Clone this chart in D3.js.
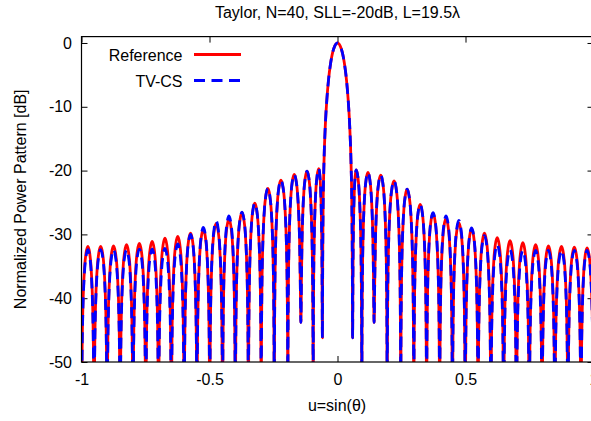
<!DOCTYPE html>
<html><head><meta charset="utf-8">
<script src="https://cdn.jsdelivr.net/npm/d3@7"></script>
<style>
body{margin:0;background:#fff}
svg{display:block}
text{font-family:"Liberation Sans",Arial,sans-serif;font-size:16px;fill:#000}
</style>
</head><body>
<svg id="chart" width="591" height="421"></svg>
<script>
// ---------------- data ----------------
const titleText = "Taylor, N=40, SLL=-20dB, L=19.5λ";
const xLabel = "u=sin(θ)";
const yLabel = "Normalized Power Pattern [dB]";
const xTicks = [-1, -0.5, 0, 0.5, 1];
const xTickLabels = ["-1", "-0.5", "0", "0.5", "1"];
const yTicks = [0, -10, -20, -30, -40, -50];
const yTickLabels = ["0", "-10", "-20", "-30", "-40", "-50"];
const seriesNames = ["Reference", "TV-CS"];
const seriesColors = ["#ff0000", "#0000ff"];

// pattern nulls: position u and depth in dB (null = below the -50 dB floor)
const nullU = [-1.0, -0.951, -0.9, -0.849, -0.799, -0.749, -0.699, -0.649, -0.599, -0.549,
  -0.499, -0.449, -0.399, -0.348, -0.298, -0.247, -0.194, -0.143, -0.095, -0.059,
  0.059, 0.095, 0.143, 0.194, 0.247, 0.298, 0.348, 0.399, 0.449, 0.499,
  0.549, 0.599, 0.649, 0.699, 0.749, 0.799, 0.849, 0.9, 0.951, 1.0];
const nullDb = [null, null, null, null, null, null, null, null, null, null,
  null, null, null, null, null, null, null, -43.8, null, -46.2,
  -46.2, null, -43.8, null, null, null, null, null, null, null,
  null, null, null, null, null, null, null, null, null, null];

// side-lobe peaks
const peakU = [-0.975, -0.925, -0.875, -0.824, -0.774, -0.724, -0.674, -0.624, -0.574, -0.524,
  -0.474, -0.424, -0.373, -0.323, -0.272, -0.221, -0.169, -0.119, -0.073,
  0.073, 0.119, 0.169, 0.221, 0.272, 0.323, 0.373, 0.424, 0.474, 0.524,
  0.574, 0.624, 0.674, 0.724, 0.774, 0.824, 0.875, 0.925, 0.975];
const refPeakDb = [-31.9, -31.9, -31.8, -31.6, -31.4, -31.1, -30.6, -30.3, -29.8, -29.2,
  -28.3, -27.6, -26.6, -25.1, -22.8, -21.5, -20.6, -20.1, -19.7,
  -19.9, -20.3, -20.7, -21.6, -22.9, -25.3, -26.7, -27.5, -28.2, -29.1,
  -29.8, -30.5, -31.0, -31.3, -31.6, -31.8, -31.9, -32.0, -32.1];
const tvPeakDb = [-32.4, -32.4, -32.4, -32.4, -32.3, -32.3, -32.2, -31.5, -30.0, -28.9,
  -27.9, -27.1, -26.5, -25.1, -22.8, -21.5, -20.6, -20.1, -19.7,
  -19.9, -20.3, -20.7, -21.6, -22.9, -25.3, -26.6, -27.1, -27.8, -29.0,
  -30.2, -31.6, -32.4, -32.5, -32.5, -32.5, -32.5, -32.5, -32.5];

// main beam samples (shared by both series)
const mainU = [-0.0578, -0.0561, -0.0531, -0.0472, -0.0413, -0.0354, -0.0266, -0.0148, 0,
  0.0148, 0.0266, 0.0354, 0.0413, 0.0472, 0.0531, 0.0561, 0.0578];
const mainDb = [-33.8, -25.6, -19.2, -12.6, -8.7, -5.9, -3.1, -0.9, 0,
  -0.9, -3.1, -5.9, -8.7, -12.6, -19.2, -25.6, -33.8];

// side-lobe profile: fraction of the peak-to-null distance, drop below the peak (dB)
const lobeFrac = [0.3, 0.5, 0.7, 0.8, 0.9, 0.95, 0.98];
const lobeDrop = [-1.1, -3.0, -6.9, -10.2, -16.1, -22.1, -30.1];

// ---------------- layout ----------------
const pL = 81.5, pR = 593.5, pT = 36.6, pB = 362;
const OFF = -80; // depth used for nulls that fall below the plotted range

const svg = d3.select("#chart");
const x = d3.scaleLinear().domain([-1, 1]).range([pL, pR]);
const y = d3.scaleLinear().domain([-50, 1]).range([pB, pT]);

function buildSeries(peakDb) {
  const pts = [];
  let p = 0;
  for (let i = 0; i < nullU.length; i++) {
    const nd = nullDb[i] === null ? OFF : nullDb[i];
    pts.push([nullU[i], nd]);
    if (i === nullU.length - 1) break;
    if (nullU[i] < 0 && nullU[i + 1] > 0) {
      mainU.forEach((u, k) => pts.push([u, mainDb[k]]));
      continue;
    }
    const pu = peakU[p], pv = peakDb[p];
    p++;
    const rd = nullDb[i + 1] === null ? OFF : nullDb[i + 1];
    for (let k = lobeFrac.length - 1; k >= 0; k--) {
      const v = pv + lobeDrop[k];
      if (v > nd + 2) pts.push([pu - lobeFrac[k] * (pu - nullU[i]), v]);
    }
    pts.push([pu, pv]);
    for (let k = 0; k < lobeFrac.length; k++) {
      const v = pv + lobeDrop[k];
      if (v > rd + 2) pts.push([pu + lobeFrac[k] * (nullU[i + 1] - pu), v]);
    }
  }
  return pts;
}

const series = [buildSeries(refPeakDb), buildSeries(tvPeakDb)];

svg.append("defs").append("clipPath").attr("id", "plotclip")
  .append("rect").attr("x", pL).attr("y", pT)
  .attr("width", pR - pL).attr("height", pB - pT);

const line = d3.line().x(d => x(d[0])).y(d => y(d[1])).curve(d3.curveMonotoneX);

// axes (inward ticks)
const axB = svg.append("g").attr("transform", `translate(0,${pB})`)
  .call(d3.axisBottom(x).tickValues(xTicks).tickSize(-6).tickSizeOuter(0)
    .tickFormat((d, i) => xTickLabels[i]));
axB.selectAll("text").attr("y", 23).attr("dy", null);
const axT = svg.append("g").attr("transform", `translate(0,${pT})`)
  .call(d3.axisTop(x).tickValues(xTicks).tickSize(-6).tickSizeOuter(0).tickFormat(""));
const axL = svg.append("g").attr("transform", `translate(${pL},0)`)
  .call(d3.axisLeft(y).tickValues(yTicks).tickSize(-6).tickSizeOuter(0)
    .tickPadding(9.5).tickFormat((d, i) => yTickLabels[i]));
const axR = svg.append("g").attr("transform", `translate(${pR},0)`)
  .call(d3.axisRight(y).tickValues(yTicks).tickSize(-6).tickSizeOuter(0).tickFormat(""));
[axB, axT, axL, axR].forEach(g => {
  g.select(".domain").remove();
  g.selectAll("text").attr("font-size", 16).attr("font-family", '"Liberation Sans",Arial,sans-serif').attr("fill", "#000");
  g.selectAll("line").attr("stroke", "#000");
});

// curves
const plot = svg.append("g").attr("clip-path", "url(#plotclip)");
plot.append("path").datum(series[0]).attr("d", line)
  .attr("fill", "none").attr("stroke", seriesColors[0]).attr("stroke-width", 2.8)
  .attr("stroke-linejoin", "round");
plot.append("path").datum(series[1]).attr("d", line)
  .attr("fill", "none").attr("stroke", seriesColors[1]).attr("stroke-width", 2.8)
  .attr("stroke-dasharray", "11,6.5").attr("stroke-linejoin", "round");

// frame
svg.append("rect").attr("x", pL).attr("y", pT)
  .attr("width", pR - pL).attr("height", pB - pT)
  .attr("fill", "none").attr("stroke", "#000").attr("stroke-width", 1.2);

// legend
const legend = svg.append("g");
seriesNames.forEach((name, i) => {
  const ly = 54.5 + i * 26;
  legend.append("text").attr("x", 182.5).attr("y", ly + 6).attr("text-anchor", "end").text(name);
  const l = legend.append("line").attr("x1", 194).attr("x2", 241).attr("y1", ly).attr("y2", ly)
    .attr("stroke", seriesColors[i]).attr("stroke-width", 2.8);
  if (i === 1) l.attr("stroke-dasharray", "11,6.5");
});

// title and axis labels
svg.append("text").attr("x", 337.5).attr("y", 18).attr("text-anchor", "middle").text(titleText);
svg.append("text").attr("x", 337).attr("y", 411).attr("text-anchor", "middle").text(xLabel);
svg.append("text").attr("transform", `translate(26,${(pT + pB) / 2}) rotate(-90)`)
  .attr("text-anchor", "middle").text(yLabel);
</script>
</body></html>
